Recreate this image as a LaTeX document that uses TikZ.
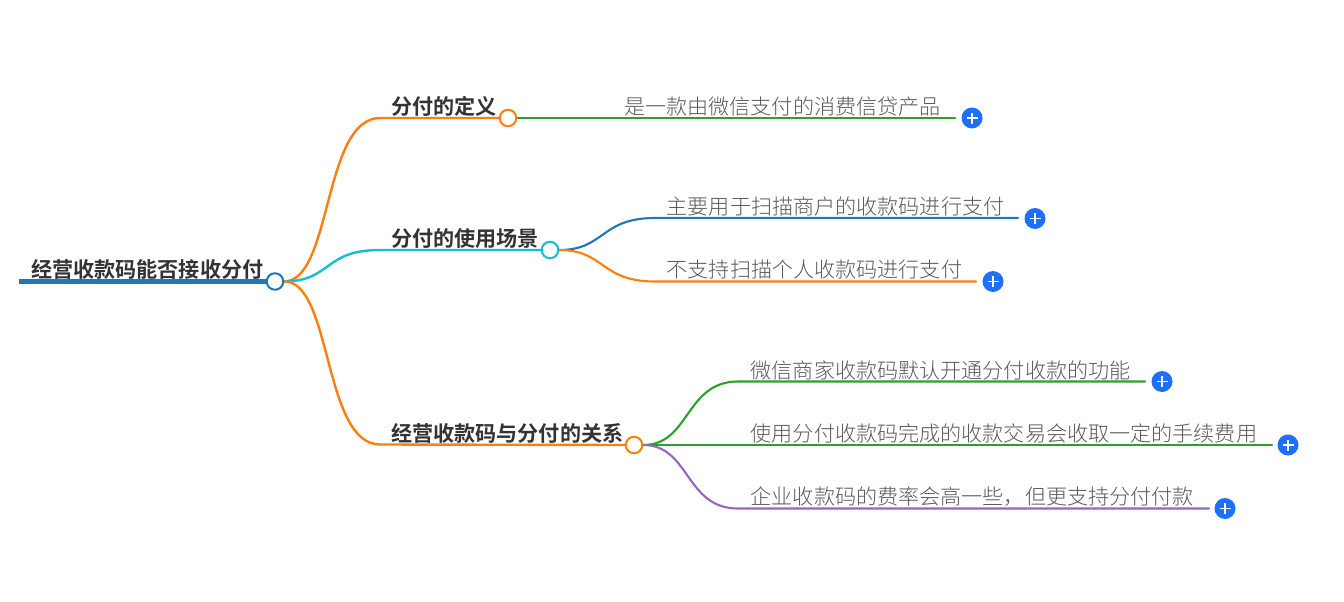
\documentclass[tikz,border=0pt]{standalone}
\usepackage{fontspec}
\usetikzlibrary{backgrounds}
\newfontfamily\cjkr{Noto Sans CJK SC}[UprightFont={* Light},BoldFont={* Bold}]
\newfontfamily\cjkb{Noto Sans CJK SC Bold}
\definecolor{cblue}{HTML}{1F77B4}
\definecolor{corange}{HTML}{FF7F0E}
\definecolor{cgreen}{HTML}{2CA02C}
\definecolor{ccyan}{HTML}{17BECF}
\definecolor{cpurple}{HTML}{9467BD}
\definecolor{cplus}{HTML}{1F6FFF}
\tikzset{
  x=1pt,y=-1pt,
  hub/.style={circle,draw=#1,line width=2pt,fill=white,minimum size=16.5pt,inner sep=0pt},
  plusbtn/.style={circle,fill=cplus,draw=none,minimum size=21pt,inner sep=0pt,
    path picture={\draw[white,line width=1.7pt]
      ([xshift=-5.5pt]path picture bounding box.center)--([xshift=5.5pt]path picture bounding box.center)
      ([yshift=-5.5pt]path picture bounding box.center)--([yshift=5.5pt]path picture bounding box.center);}},
  conn/.style={draw=#1,line width=2.4pt,line cap=round},
  leafconn/.style={draw=#1,line width=2.1pt,line cap=round},
  topic/.style={anchor=west,inner sep=0pt,text=black!80,font=\cjkb\fontsize{21.1}{21}\selectfont},
  leaf/.style={anchor=west,inner sep=0pt,text=black!65,font=\cjkr\fontsize{21.1}{21}\selectfont},
}
\begin{document}
\begin{tikzpicture}
\useasboundingbox (0,0) rectangle (1344,602);
% connector ends
\coordinate (s0) at (19,281.5);
\coordinate (e1) at (380,118);
\coordinate (e2) at (380,250);
\coordinate (e3) at (380,444.5);
\coordinate (f1) at (955,118);
\coordinate (a2) at (655,218);
\coordinate (f2) at (1018,218);
\coordinate (a3) at (655,281.5);
\coordinate (f3) at (976,281.5);
\coordinate (a4) at (738,381.5);
\coordinate (f4) at (1145,381.5);
\coordinate (a5) at (738,445);
\coordinate (f5) at (1272,445);
\coordinate (a6) at (738,508.5);
\coordinate (f6) at (1209,508.5);
% hubs
\node[hub=cblue] (root) at (275,281.5) {};
\node[hub=corange] (h1) at (508,118) {};
\node[hub=ccyan] (h2) at (550,250) {};
\node[hub=corange] (h3) at (634,445) {};
% connectors, behind the hubs
\begin{scope}[on background layer]
\draw[draw=cblue,line width=5.4pt] (s0) -- (root.west);
\draw[conn=corange] (root.east) .. controls (332,281) and (323,118) .. (e1) -- (h1.west);
\draw[conn=ccyan] (root.east) .. controls (332,281) and (323,250) .. (e2) -- (h2.west);
\draw[conn=corange] (root.east) .. controls (332,281) and (323,444.5) .. (e3) -- (h3.west);
\draw[leafconn=cgreen] (h1.east) -- (f1);
\draw[leafconn=cblue] (h2.east) .. controls (605,250) and (600,218) .. (a2) -- (f2);
\draw[leafconn=corange] (h2.east) .. controls (605,250) and (600,281.5) .. (a3) -- (f3);
\draw[leafconn=cgreen] (h3.east) .. controls (690,445) and (685,381.5) .. (a4) -- (f4);
\draw[leafconn=cgreen] (h3.east) -- (a5) -- (f5);
\draw[leafconn=cpurple] (h3.east) .. controls (690,445) and (685,508.5) .. (a6) -- (f6);
\end{scope}
% plus buttons
\node[plusbtn] (p1) at (972,118) {};
\node[plusbtn] (p2) at (1035,218.5) {};
\node[plusbtn] (p3) at (993,281.5) {};
\node[plusbtn] (p4) at (1162,381.5) {};
\node[plusbtn] (p5) at (1288,445) {};
\node[plusbtn] (p6) at (1225,508.5) {};
% text
\node[topic] (t0) at (31,269.5) {经营收款码能否接收分付};
\node[topic] (t1) at (391,106.5) {分付的定义};
\node[topic] (t2) at (391,238.5) {分付的使用场景};
\node[topic] (t3) at (391,433.5) {经营收款码与分付的关系};
\node[leaf] (l1) at (624,106.5) {是一款由微信支付的消费信贷产品};
\node[leaf] (l2) at (666.5,206.5) {主要用于扫描商户的收款码进行支付};
\node[leaf] (l3) at (666.5,269.5) {不支持扫描个人收款码进行支付};
\node[leaf] (l4) at (750.5,370.5) {微信商家收款码默认开通分付收款的功能};
\node[leaf] (l5) at (750.5,433.5) {使用分付收款码完成的收款交易会收取一定的手续费用};
\node[leaf] (l6) at (750.5,496.5) {企业收款码的费率会高一些，但更支持分付付款};
\end{tikzpicture}
\end{document}
